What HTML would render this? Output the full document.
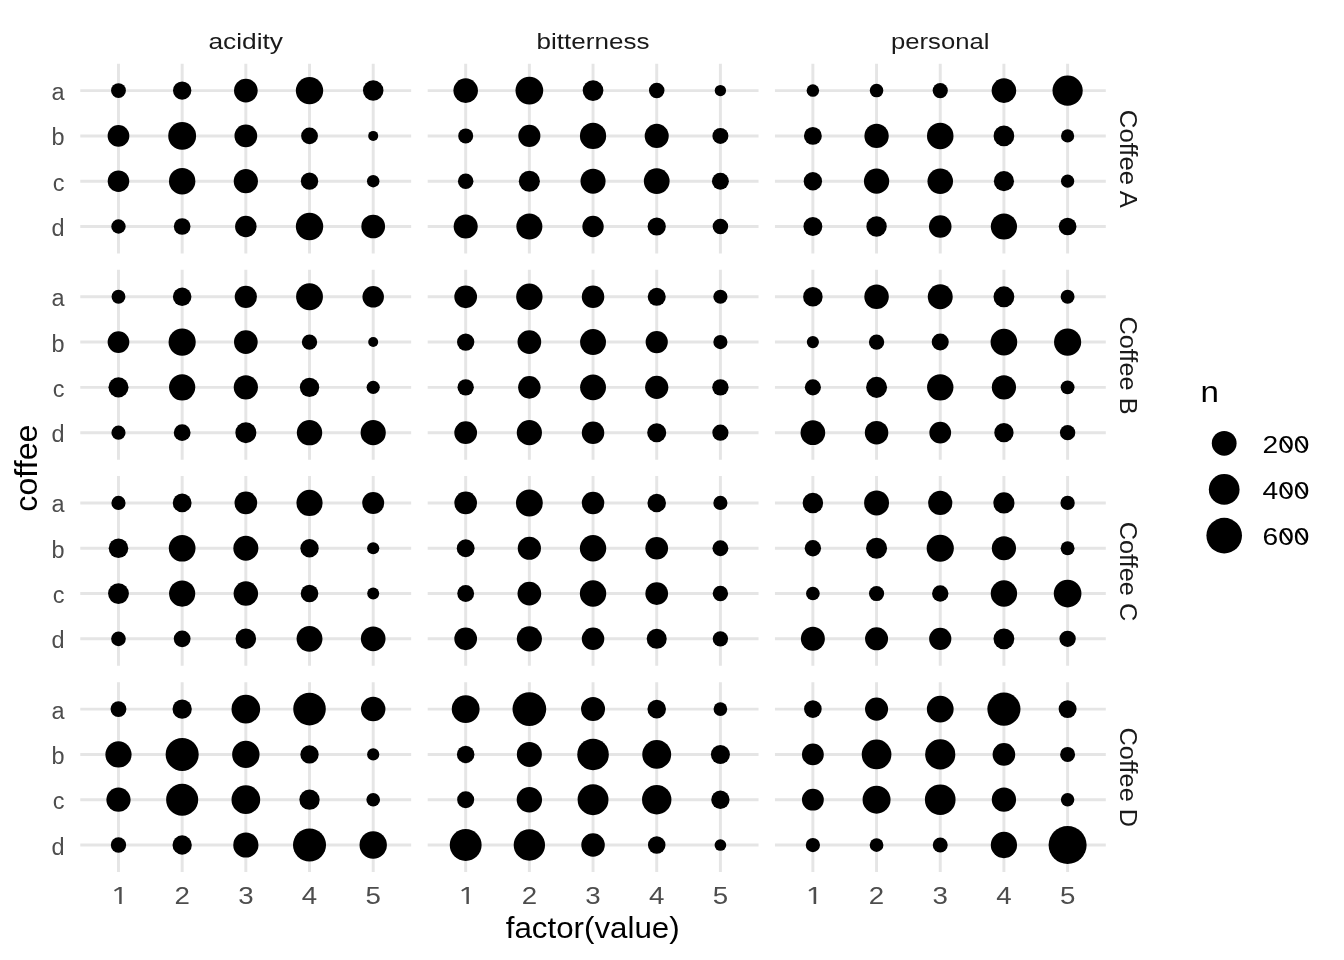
<!DOCTYPE html>
<html lang="en"><head><meta charset="utf-8"><title>coffee ratings</title>
<style>html,body{margin:0;padding:0;background:#fff}body{width:1344px;height:960px;overflow:hidden}svg{display:block;will-change:transform}text{font-family:"Liberation Sans",sans-serif}.g{stroke:#e5e5e5;stroke-width:2.95;fill:none}.t{font-size:23.47px;fill:#4d4d4d}.s{font-size:23.47px;fill:#1a1a1a}.T{font-size:29.33px;fill:#000}.l{font-size:23.47px;fill:#000}</style></head><body>
<svg width="1344" height="960" viewBox="0 0 1344 960">
<rect width="1344" height="960" fill="#fff"/>
<g class="g">
<path d="M80.30 90.60H411.15M80.30 135.90H411.15M80.30 181.20H411.15M80.30 226.50H411.15M118.48 63.70V253.50M182.16 63.70V253.50M245.84 63.70V253.50M309.52 63.70V253.50M373.20 63.70V253.50"/>
<path d="M427.70 90.60H758.55M427.70 135.90H758.55M427.70 181.20H758.55M427.70 226.50H758.55M465.68 63.70V253.50M529.36 63.70V253.50M593.04 63.70V253.50M656.72 63.70V253.50M720.40 63.70V253.50"/>
<path d="M774.95 90.60H1105.80M774.95 135.90H1105.80M774.95 181.20H1105.80M774.95 226.50H1105.80M812.88 63.70V253.50M876.56 63.70V253.50M940.24 63.70V253.50M1003.92 63.70V253.50M1067.60 63.70V253.50"/>
<path d="M80.30 296.77H411.15M80.30 342.07H411.15M80.30 387.37H411.15M80.30 432.67H411.15M118.48 269.87V459.67M182.16 269.87V459.67M245.84 269.87V459.67M309.52 269.87V459.67M373.20 269.87V459.67"/>
<path d="M427.70 296.77H758.55M427.70 342.07H758.55M427.70 387.37H758.55M427.70 432.67H758.55M465.68 269.87V459.67M529.36 269.87V459.67M593.04 269.87V459.67M656.72 269.87V459.67M720.40 269.87V459.67"/>
<path d="M774.95 296.77H1105.80M774.95 342.07H1105.80M774.95 387.37H1105.80M774.95 432.67H1105.80M812.88 269.87V459.67M876.56 269.87V459.67M940.24 269.87V459.67M1003.92 269.87V459.67M1067.60 269.87V459.67"/>
<path d="M80.30 502.94H411.15M80.30 548.24H411.15M80.30 593.54H411.15M80.30 638.84H411.15M118.48 476.04V665.84M182.16 476.04V665.84M245.84 476.04V665.84M309.52 476.04V665.84M373.20 476.04V665.84"/>
<path d="M427.70 502.94H758.55M427.70 548.24H758.55M427.70 593.54H758.55M427.70 638.84H758.55M465.68 476.04V665.84M529.36 476.04V665.84M593.04 476.04V665.84M656.72 476.04V665.84M720.40 476.04V665.84"/>
<path d="M774.95 502.94H1105.80M774.95 548.24H1105.80M774.95 593.54H1105.80M774.95 638.84H1105.80M812.88 476.04V665.84M876.56 476.04V665.84M940.24 476.04V665.84M1003.92 476.04V665.84M1067.60 476.04V665.84"/>
<path d="M80.30 709.11H411.15M80.30 754.41H411.15M80.30 799.71H411.15M80.30 845.01H411.15M118.48 682.21V872.01M182.16 682.21V872.01M245.84 682.21V872.01M309.52 682.21V872.01M373.20 682.21V872.01"/>
<path d="M427.70 709.11H758.55M427.70 754.41H758.55M427.70 799.71H758.55M427.70 845.01H758.55M465.68 682.21V872.01M529.36 682.21V872.01M593.04 682.21V872.01M656.72 682.21V872.01M720.40 682.21V872.01"/>
<path d="M774.95 709.11H1105.80M774.95 754.41H1105.80M774.95 799.71H1105.80M774.95 845.01H1105.80M812.88 682.21V872.01M876.56 682.21V872.01M940.24 682.21V872.01M1003.92 682.21V872.01M1067.60 682.21V872.01"/>
</g>
<g fill="#000">
<circle cx="118.48" cy="90.60" r="7.43"/>
<circle cx="182.16" cy="90.60" r="9.17"/>
<circle cx="245.84" cy="90.60" r="11.85"/>
<circle cx="309.52" cy="90.60" r="13.69"/>
<circle cx="373.20" cy="90.60" r="10.26"/>
<circle cx="118.48" cy="135.90" r="10.86"/>
<circle cx="182.16" cy="135.90" r="13.94"/>
<circle cx="245.84" cy="135.90" r="11.36"/>
<circle cx="309.52" cy="135.90" r="8.42"/>
<circle cx="373.20" cy="135.90" r="5.00"/>
<circle cx="118.48" cy="181.20" r="10.76"/>
<circle cx="182.16" cy="181.20" r="13.20"/>
<circle cx="245.84" cy="181.20" r="12.10"/>
<circle cx="309.52" cy="181.20" r="8.67"/>
<circle cx="373.20" cy="181.20" r="6.24"/>
<circle cx="118.48" cy="226.50" r="7.18"/>
<circle cx="182.16" cy="226.50" r="8.33"/>
<circle cx="245.84" cy="226.50" r="10.76"/>
<circle cx="309.52" cy="226.50" r="13.69"/>
<circle cx="373.20" cy="226.50" r="11.85"/>
<circle cx="465.68" cy="90.60" r="12.28"/>
<circle cx="529.36" cy="90.60" r="13.87"/>
<circle cx="593.04" cy="90.60" r="10.34"/>
<circle cx="656.72" cy="90.60" r="7.75"/>
<circle cx="720.40" cy="90.60" r="5.67"/>
<circle cx="465.68" cy="135.90" r="7.50"/>
<circle cx="529.36" cy="135.90" r="11.03"/>
<circle cx="593.04" cy="135.90" r="13.12"/>
<circle cx="656.72" cy="135.90" r="12.03"/>
<circle cx="720.40" cy="135.90" r="8.00"/>
<circle cx="465.68" cy="181.20" r="7.75"/>
<circle cx="529.36" cy="181.20" r="10.54"/>
<circle cx="593.04" cy="181.20" r="12.52"/>
<circle cx="656.72" cy="181.20" r="12.87"/>
<circle cx="720.40" cy="181.20" r="8.45"/>
<circle cx="465.68" cy="226.50" r="12.03"/>
<circle cx="529.36" cy="226.50" r="13.02"/>
<circle cx="593.04" cy="226.50" r="10.69"/>
<circle cx="656.72" cy="226.50" r="9.10"/>
<circle cx="720.40" cy="226.50" r="7.75"/>
<circle cx="812.88" cy="90.60" r="6.26"/>
<circle cx="876.56" cy="90.60" r="6.76"/>
<circle cx="940.24" cy="90.60" r="7.60"/>
<circle cx="1003.92" cy="90.60" r="12.28"/>
<circle cx="1067.60" cy="90.60" r="15.11"/>
<circle cx="812.88" cy="135.90" r="8.95"/>
<circle cx="876.56" cy="135.90" r="12.18"/>
<circle cx="940.24" cy="135.90" r="13.27"/>
<circle cx="1003.92" cy="135.90" r="10.34"/>
<circle cx="1067.60" cy="135.90" r="6.61"/>
<circle cx="812.88" cy="181.20" r="9.19"/>
<circle cx="876.56" cy="181.20" r="12.62"/>
<circle cx="940.24" cy="181.20" r="12.77"/>
<circle cx="1003.92" cy="181.20" r="10.09"/>
<circle cx="1067.60" cy="181.20" r="6.61"/>
<circle cx="812.88" cy="226.50" r="9.44"/>
<circle cx="876.56" cy="226.50" r="10.19"/>
<circle cx="940.24" cy="226.50" r="11.28"/>
<circle cx="1003.92" cy="226.50" r="13.12"/>
<circle cx="1067.60" cy="226.50" r="8.85"/>
<circle cx="118.48" cy="296.77" r="6.93"/>
<circle cx="182.16" cy="296.77" r="9.27"/>
<circle cx="245.84" cy="296.77" r="11.11"/>
<circle cx="309.52" cy="296.77" r="13.44"/>
<circle cx="373.20" cy="296.77" r="10.76"/>
<circle cx="118.48" cy="342.07" r="10.86"/>
<circle cx="182.16" cy="342.07" r="13.59"/>
<circle cx="245.84" cy="342.07" r="11.85"/>
<circle cx="309.52" cy="342.07" r="7.68"/>
<circle cx="373.20" cy="342.07" r="5.00"/>
<circle cx="118.48" cy="387.37" r="10.02"/>
<circle cx="182.16" cy="387.37" r="13.10"/>
<circle cx="245.84" cy="387.37" r="12.10"/>
<circle cx="309.52" cy="387.37" r="9.67"/>
<circle cx="373.20" cy="387.37" r="6.59"/>
<circle cx="118.48" cy="432.67" r="7.08"/>
<circle cx="182.16" cy="432.67" r="8.42"/>
<circle cx="245.84" cy="432.67" r="10.51"/>
<circle cx="309.52" cy="432.67" r="12.70"/>
<circle cx="373.20" cy="432.67" r="12.60"/>
<circle cx="465.68" cy="296.77" r="11.36"/>
<circle cx="529.36" cy="296.77" r="13.20"/>
<circle cx="593.04" cy="296.77" r="11.26"/>
<circle cx="656.72" cy="296.77" r="9.02"/>
<circle cx="720.40" cy="296.77" r="7.08"/>
<circle cx="465.68" cy="342.07" r="8.67"/>
<circle cx="529.36" cy="342.07" r="11.85"/>
<circle cx="593.04" cy="342.07" r="12.95"/>
<circle cx="656.72" cy="342.07" r="11.11"/>
<circle cx="720.40" cy="342.07" r="7.08"/>
<circle cx="465.68" cy="387.37" r="8.18"/>
<circle cx="529.36" cy="387.37" r="11.26"/>
<circle cx="593.04" cy="387.37" r="12.95"/>
<circle cx="656.72" cy="387.37" r="11.61"/>
<circle cx="720.40" cy="387.37" r="8.18"/>
<circle cx="465.68" cy="432.67" r="11.36"/>
<circle cx="529.36" cy="432.67" r="12.60"/>
<circle cx="593.04" cy="432.67" r="11.26"/>
<circle cx="656.72" cy="432.67" r="9.52"/>
<circle cx="720.40" cy="432.67" r="8.08"/>
<circle cx="812.88" cy="296.77" r="9.77"/>
<circle cx="876.56" cy="296.77" r="12.25"/>
<circle cx="940.24" cy="296.77" r="12.50"/>
<circle cx="1003.92" cy="296.77" r="10.41"/>
<circle cx="1067.60" cy="296.77" r="6.93"/>
<circle cx="812.88" cy="342.07" r="6.09"/>
<circle cx="876.56" cy="342.07" r="7.68"/>
<circle cx="940.24" cy="342.07" r="8.52"/>
<circle cx="1003.92" cy="342.07" r="13.34"/>
<circle cx="1067.60" cy="342.07" r="13.59"/>
<circle cx="812.88" cy="387.37" r="8.08"/>
<circle cx="876.56" cy="387.37" r="10.51"/>
<circle cx="940.24" cy="387.37" r="13.20"/>
<circle cx="1003.92" cy="387.37" r="12.10"/>
<circle cx="1067.60" cy="387.37" r="6.93"/>
<circle cx="812.88" cy="432.67" r="12.35"/>
<circle cx="876.56" cy="432.67" r="11.75"/>
<circle cx="940.24" cy="432.67" r="10.86"/>
<circle cx="1003.92" cy="432.67" r="9.67"/>
<circle cx="1067.60" cy="432.67" r="7.68"/>
<circle cx="118.48" cy="502.94" r="7.08"/>
<circle cx="182.16" cy="502.94" r="9.42"/>
<circle cx="245.84" cy="502.94" r="11.36"/>
<circle cx="309.52" cy="502.94" r="13.10"/>
<circle cx="373.20" cy="502.94" r="11.01"/>
<circle cx="118.48" cy="548.24" r="9.77"/>
<circle cx="182.16" cy="548.24" r="13.34"/>
<circle cx="245.84" cy="548.24" r="12.50"/>
<circle cx="309.52" cy="548.24" r="9.17"/>
<circle cx="373.20" cy="548.24" r="6.09"/>
<circle cx="118.48" cy="593.54" r="10.41"/>
<circle cx="182.16" cy="593.54" r="13.10"/>
<circle cx="245.84" cy="593.54" r="12.25"/>
<circle cx="309.52" cy="593.54" r="8.77"/>
<circle cx="373.20" cy="593.54" r="5.99"/>
<circle cx="118.48" cy="638.84" r="7.33"/>
<circle cx="182.16" cy="638.84" r="8.42"/>
<circle cx="245.84" cy="638.84" r="10.26"/>
<circle cx="309.52" cy="638.84" r="12.95"/>
<circle cx="373.20" cy="638.84" r="12.35"/>
<circle cx="465.68" cy="502.94" r="11.36"/>
<circle cx="529.36" cy="502.94" r="13.44"/>
<circle cx="593.04" cy="502.94" r="11.26"/>
<circle cx="656.72" cy="502.94" r="9.27"/>
<circle cx="720.40" cy="502.94" r="7.08"/>
<circle cx="465.68" cy="548.24" r="8.92"/>
<circle cx="529.36" cy="548.24" r="11.61"/>
<circle cx="593.04" cy="548.24" r="13.20"/>
<circle cx="656.72" cy="548.24" r="11.36"/>
<circle cx="720.40" cy="548.24" r="7.93"/>
<circle cx="465.68" cy="593.54" r="8.42"/>
<circle cx="529.36" cy="593.54" r="11.85"/>
<circle cx="593.04" cy="593.54" r="13.20"/>
<circle cx="656.72" cy="593.54" r="11.36"/>
<circle cx="720.40" cy="593.54" r="7.68"/>
<circle cx="465.68" cy="638.84" r="11.36"/>
<circle cx="529.36" cy="638.84" r="12.60"/>
<circle cx="593.04" cy="638.84" r="11.26"/>
<circle cx="656.72" cy="638.84" r="10.02"/>
<circle cx="720.40" cy="638.84" r="7.68"/>
<circle cx="812.88" cy="502.94" r="10.26"/>
<circle cx="876.56" cy="502.94" r="12.50"/>
<circle cx="940.24" cy="502.94" r="12.10"/>
<circle cx="1003.92" cy="502.94" r="10.61"/>
<circle cx="1067.60" cy="502.94" r="7.18"/>
<circle cx="812.88" cy="548.24" r="8.18"/>
<circle cx="876.56" cy="548.24" r="10.51"/>
<circle cx="940.24" cy="548.24" r="13.59"/>
<circle cx="1003.92" cy="548.24" r="12.10"/>
<circle cx="1067.60" cy="548.24" r="6.93"/>
<circle cx="812.88" cy="593.54" r="6.83"/>
<circle cx="876.56" cy="593.54" r="7.58"/>
<circle cx="940.24" cy="593.54" r="8.18"/>
<circle cx="1003.92" cy="593.54" r="13.20"/>
<circle cx="1067.60" cy="593.54" r="13.84"/>
<circle cx="812.88" cy="638.84" r="12.00"/>
<circle cx="876.56" cy="638.84" r="11.51"/>
<circle cx="940.24" cy="638.84" r="11.11"/>
<circle cx="1003.92" cy="638.84" r="10.41"/>
<circle cx="1067.60" cy="638.84" r="8.18"/>
<circle cx="118.48" cy="709.11" r="7.93"/>
<circle cx="182.16" cy="709.11" r="9.67"/>
<circle cx="245.84" cy="709.11" r="14.34"/>
<circle cx="309.52" cy="709.11" r="16.28"/>
<circle cx="373.20" cy="709.11" r="12.25"/>
<circle cx="118.48" cy="754.41" r="13.10"/>
<circle cx="182.16" cy="754.41" r="16.53"/>
<circle cx="245.84" cy="754.41" r="13.69"/>
<circle cx="309.52" cy="754.41" r="9.17"/>
<circle cx="373.20" cy="754.41" r="6.09"/>
<circle cx="118.48" cy="799.71" r="12.10"/>
<circle cx="182.16" cy="799.71" r="16.03"/>
<circle cx="245.84" cy="799.71" r="14.34"/>
<circle cx="309.52" cy="799.71" r="10.16"/>
<circle cx="373.20" cy="799.71" r="6.83"/>
<circle cx="118.48" cy="845.01" r="7.68"/>
<circle cx="182.16" cy="845.01" r="9.67"/>
<circle cx="245.84" cy="845.01" r="12.60"/>
<circle cx="309.52" cy="845.01" r="16.53"/>
<circle cx="373.20" cy="845.01" r="13.69"/>
<circle cx="465.68" cy="709.11" r="13.94"/>
<circle cx="529.36" cy="709.11" r="16.87"/>
<circle cx="593.04" cy="709.11" r="12.00"/>
<circle cx="656.72" cy="709.11" r="9.27"/>
<circle cx="720.40" cy="709.11" r="6.83"/>
<circle cx="465.68" cy="754.41" r="8.77"/>
<circle cx="529.36" cy="754.41" r="12.50"/>
<circle cx="593.04" cy="754.41" r="15.78"/>
<circle cx="656.72" cy="754.41" r="14.44"/>
<circle cx="720.40" cy="754.41" r="9.52"/>
<circle cx="465.68" cy="799.71" r="8.52"/>
<circle cx="529.36" cy="799.71" r="12.70"/>
<circle cx="593.04" cy="799.71" r="15.43"/>
<circle cx="656.72" cy="799.71" r="14.69"/>
<circle cx="720.40" cy="799.71" r="9.17"/>
<circle cx="465.68" cy="845.01" r="15.93"/>
<circle cx="529.36" cy="845.01" r="15.68"/>
<circle cx="593.04" cy="845.01" r="11.75"/>
<circle cx="656.72" cy="845.01" r="8.77"/>
<circle cx="720.40" cy="845.01" r="5.84"/>
<circle cx="812.88" cy="709.11" r="8.82"/>
<circle cx="876.56" cy="709.11" r="11.55"/>
<circle cx="940.24" cy="709.11" r="13.39"/>
<circle cx="1003.92" cy="709.11" r="16.57"/>
<circle cx="1067.60" cy="709.11" r="8.97"/>
<circle cx="812.88" cy="754.41" r="10.91"/>
<circle cx="876.56" cy="754.41" r="14.83"/>
<circle cx="940.24" cy="754.41" r="15.08"/>
<circle cx="1003.92" cy="754.41" r="11.31"/>
<circle cx="1067.60" cy="754.41" r="7.48"/>
<circle cx="812.88" cy="799.71" r="10.91"/>
<circle cx="876.56" cy="799.71" r="13.99"/>
<circle cx="940.24" cy="799.71" r="15.33"/>
<circle cx="1003.92" cy="799.71" r="12.15"/>
<circle cx="1067.60" cy="799.71" r="6.73"/>
<circle cx="812.88" cy="845.01" r="7.13"/>
<circle cx="876.56" cy="845.01" r="6.88"/>
<circle cx="940.24" cy="845.01" r="7.48"/>
<circle cx="1003.92" cy="845.01" r="13.14"/>
<circle cx="1067.60" cy="845.01" r="19.01"/>
</g>
<text class="s" transform="translate(245.70 48.70) scale(1.1220 0.9700)" text-anchor="middle">acidity</text>
<text class="s" transform="translate(593.00 48.70) scale(1.1100 0.9700)" text-anchor="middle">bitterness</text>
<text class="s" transform="translate(940.25 48.70) scale(1.0930 0.9700)" text-anchor="middle">personal</text>
<text class="s" transform="translate(1120.40 158.90) rotate(90) scale(1.0960 1.0400)" text-anchor="middle">Coffee A</text>
<text class="s" transform="translate(1120.40 365.47) rotate(90) scale(1.0810 1.0400)" text-anchor="middle">Coffee B</text>
<text class="s" transform="translate(1120.40 571.44) rotate(90) scale(1.0810 1.0400)" text-anchor="middle">Coffee C</text>
<text class="s" transform="translate(1120.40 777.31) rotate(90) scale(1.0810 1.0400)" text-anchor="middle">Coffee D</text>
<text class="t" transform="translate(64.60 100.10)" text-anchor="end">a</text>
<text class="t" transform="translate(64.60 145.40)" text-anchor="end">b</text>
<text class="t" transform="translate(64.60 190.70)" text-anchor="end">c</text>
<text class="t" transform="translate(64.60 236.00)" text-anchor="end">d</text>
<text class="t" transform="translate(64.60 306.27)" text-anchor="end">a</text>
<text class="t" transform="translate(64.60 351.57)" text-anchor="end">b</text>
<text class="t" transform="translate(64.60 396.87)" text-anchor="end">c</text>
<text class="t" transform="translate(64.60 442.17)" text-anchor="end">d</text>
<text class="t" transform="translate(64.60 512.44)" text-anchor="end">a</text>
<text class="t" transform="translate(64.60 557.74)" text-anchor="end">b</text>
<text class="t" transform="translate(64.60 603.04)" text-anchor="end">c</text>
<text class="t" transform="translate(64.60 648.34)" text-anchor="end">d</text>
<text class="t" transform="translate(64.60 718.61)" text-anchor="end">a</text>
<text class="t" transform="translate(64.60 763.91)" text-anchor="end">b</text>
<text class="t" transform="translate(64.60 809.21)" text-anchor="end">c</text>
<text class="t" transform="translate(64.60 854.51)" text-anchor="end">d</text>
<text class="t" transform="translate(119.53 904.10) scale(1.3600 1.0000)" text-anchor="middle" style="font-family:NanumGothic,'Liberation Sans',sans-serif;stroke:#4d4d4d;stroke-width:0.2">1</text>
<text class="t" transform="translate(182.16 904.10) scale(1.1800 1.0000)" text-anchor="middle">2</text>
<text class="t" transform="translate(245.84 904.10) scale(1.1800 1.0000)" text-anchor="middle">3</text>
<text class="t" transform="translate(309.52 904.10) scale(1.1800 1.0000)" text-anchor="middle">4</text>
<text class="t" transform="translate(373.20 904.10) scale(1.1800 1.0000)" text-anchor="middle">5</text>
<text class="t" transform="translate(466.73 904.10) scale(1.3600 1.0000)" text-anchor="middle" style="font-family:NanumGothic,'Liberation Sans',sans-serif;stroke:#4d4d4d;stroke-width:0.2">1</text>
<text class="t" transform="translate(529.36 904.10) scale(1.1800 1.0000)" text-anchor="middle">2</text>
<text class="t" transform="translate(593.04 904.10) scale(1.1800 1.0000)" text-anchor="middle">3</text>
<text class="t" transform="translate(656.72 904.10) scale(1.1800 1.0000)" text-anchor="middle">4</text>
<text class="t" transform="translate(720.40 904.10) scale(1.1800 1.0000)" text-anchor="middle">5</text>
<text class="t" transform="translate(813.93 904.10) scale(1.3600 1.0000)" text-anchor="middle" style="font-family:NanumGothic,'Liberation Sans',sans-serif;stroke:#4d4d4d;stroke-width:0.2">1</text>
<text class="t" transform="translate(876.56 904.10) scale(1.1800 1.0000)" text-anchor="middle">2</text>
<text class="t" transform="translate(940.24 904.10) scale(1.1800 1.0000)" text-anchor="middle">3</text>
<text class="t" transform="translate(1003.92 904.10) scale(1.1800 1.0000)" text-anchor="middle">4</text>
<text class="t" transform="translate(1067.60 904.10) scale(1.1800 1.0000)" text-anchor="middle">5</text>
<text class="T" transform="translate(592.70 937.50) scale(1.0680 1.0000)" text-anchor="middle">factor(value)</text>
<text class="T" transform="translate(37.20 468.10) rotate(-90) scale(1.1000 1.0500)" text-anchor="middle">coffee</text>
<text class="T" transform="translate(1200.40 401.80) scale(1.1300 1.0000)">n</text>
<circle cx="1224.2" cy="443.30" r="12.40" fill="#000"/>
<text class="l" transform="translate(1262.50 452.80) scale(1.2000 1.0000)">200</text>
<line x1="1281.98" y1="438.21" x2="1290.05" y2="449.17" stroke="#000" stroke-width="1.9"/>
<line x1="1297.64" y1="438.21" x2="1305.71" y2="449.17" stroke="#000" stroke-width="1.9"/>
<circle cx="1224.2" cy="489.40" r="15.35" fill="#000"/>
<text class="l" transform="translate(1262.50 498.90) scale(1.2000 1.0000)">400</text>
<line x1="1281.98" y1="484.31" x2="1290.05" y2="495.27" stroke="#000" stroke-width="1.9"/>
<line x1="1297.64" y1="484.31" x2="1305.71" y2="495.27" stroke="#000" stroke-width="1.9"/>
<circle cx="1224.2" cy="535.60" r="17.80" fill="#000"/>
<text class="l" transform="translate(1262.50 545.00) scale(1.2000 1.0000)">600</text>
<line x1="1281.98" y1="530.41" x2="1290.05" y2="541.37" stroke="#000" stroke-width="1.9"/>
<line x1="1297.64" y1="530.41" x2="1305.71" y2="541.37" stroke="#000" stroke-width="1.9"/>
</svg></body></html>
